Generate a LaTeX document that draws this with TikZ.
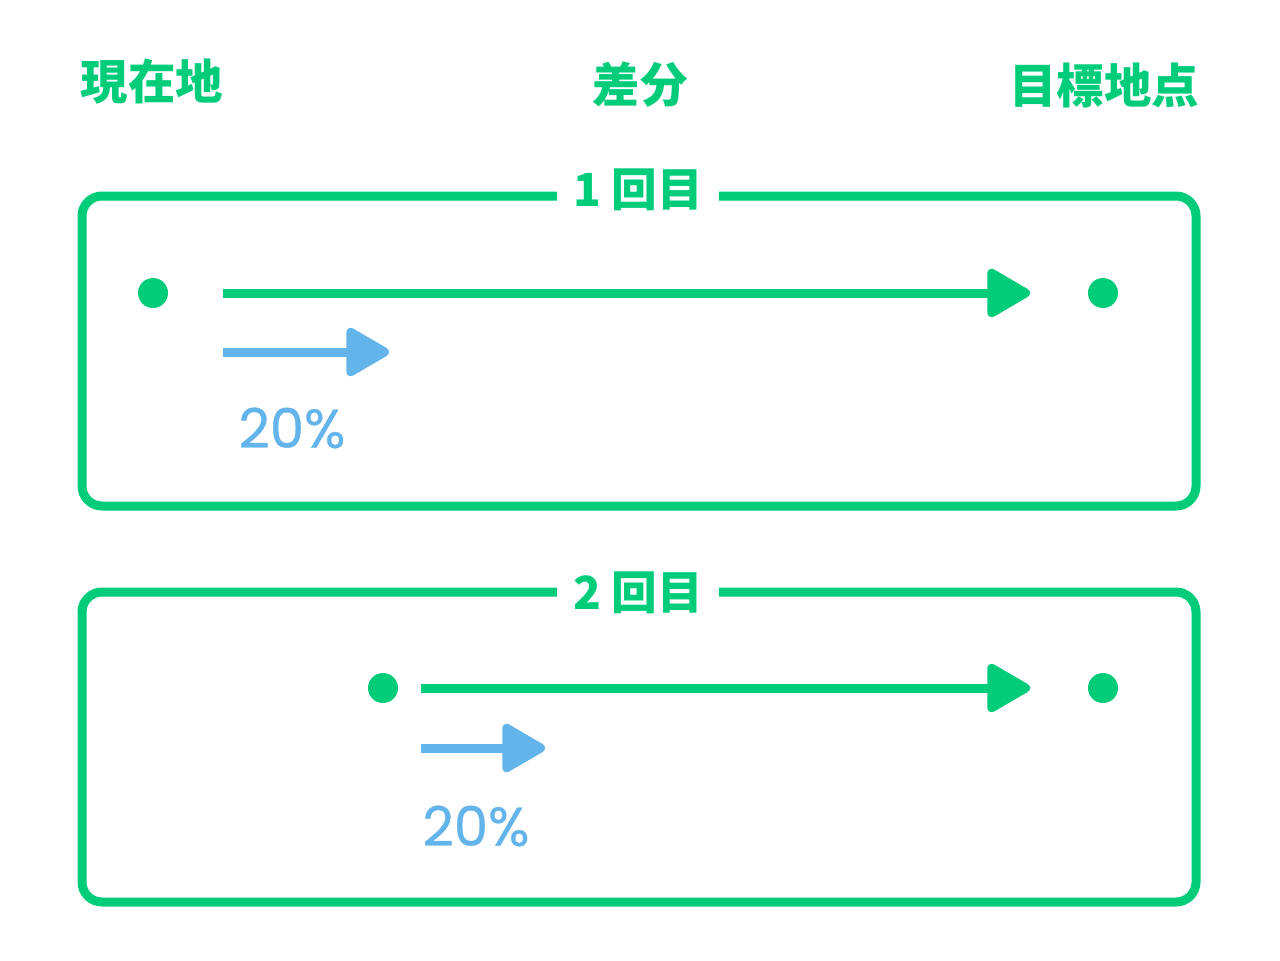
\documentclass[tikz,border=0pt]{standalone}
\usepackage{fontspec}
\usepackage{xcolor}
\usepackage{tikz}
\usetikzlibrary{arrows.meta,positioning,calc}
\newfontfamily\cjk{Noto Sans CJK JP}
\newfontfamily\numfont{Poppins}[FakeBold=0.6]
\definecolor{mintgreen}{HTML}{00CC7A}
\definecolor{skyblue}{HTML}{64B4EC}

\begin{document}
\begin{tikzpicture}[x=0.02cm, y=-0.02cm,
    head/.style={font=\cjk\bfseries\fontsize{27}{27}\selectfont, text=mintgreen},
    passlabel/.style={font=\cjk\bfseries\fontsize{26}{26}\selectfont, text=mintgreen, inner xsep=9pt},
    pct/.style={font=\numfont\fontsize{31}{31}\selectfont, text=skyblue},
    frame/.style={draw=mintgreen, line width=0.18cm, rounded corners=0.4cm},
    spot/.style={circle, fill=mintgreen, minimum size=0.6cm, inner sep=0pt},
    diffline/.style={draw=mintgreen, line width=0.18cm, -{Triangle[length=0.95cm, width=1.05cm, round]}},
    stepline/.style={draw=skyblue, line width=0.18cm, -{Triangle[length=0.95cm, width=1.05cm, round]}}]
    \useasboundingbox (0,0) rectangle (1280,960);

    % column heads
    \node[head] (now) at (152,82) {現在地};
    \node[head] (gap) at (640,85) {差分};
    \node[head] (goal) at (1104,85) {目標地点};

    % first pass
    \node[passlabel] (r1) at (638,190) {1 回目};
    \path[frame] (r1.west |- 0,196) -| (82,506) -| (1196,196) -- (r1.east |- 0,196);
    \node[spot] (s1) at (153,293) {};
    \node[spot] (g1) at (1103,293) {};
    \coordinate (a1) at (223,293);
    \coordinate (b1) at (1030,293);
    \coordinate (c1) at (223,352);
    \coordinate (d1) at (389,352);
    \path[diffline] (a1) -- (b1);
    \path[stepline] (c1) -- (d1);
    \node[pct] (p1) at (292,428) {20\%};

    % second pass
    \node[passlabel] (r2) at (638,593) {2 回目};
    \path[frame] (r2.west |- 0,592) -| (82,902) -| (1196,592) -- (r2.east |- 0,592);
    \node[spot] (s2) at (383,688) {};
    \node[spot] (g2) at (1103,688) {};
    \coordinate (a2) at (421,688);
    \coordinate (b2) at (1030,688);
    \coordinate (c2) at (421,748);
    \coordinate (d2) at (545,748);
    \path[diffline] (a2) -- (b2);
    \path[stepline] (c2) -- (d2);
    \node[pct] (p2) at (476,826) {20\%};
\end{tikzpicture}
\end{document}
